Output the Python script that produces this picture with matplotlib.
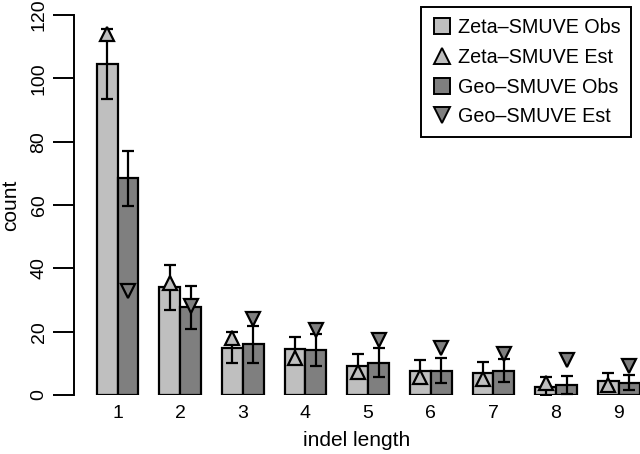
import matplotlib
matplotlib.use("Agg")
import matplotlib.pyplot as plt
from matplotlib.lines import Line2D
import numpy as np

plt.rcParams['font.family'] = ['Liberation Sans', 'DejaVu Sans']

lengths = ['1', '2', '3', '4', '5', '6', '7', '8', '9']
zeta_obs = [104.5, 34, 15, 14.5, 9.2, 7.7, 7.0, 2.6, 4.5]
zeta_err = [11, 7, 5, 3.9, 3.8, 3.4, 3.4, 3.0, 2.4]
zeta_est = [114, 35.5, 18, 11.7, 7.4, 5.8, 5.0, 3.9, 3.2]
geo_obs = [68.4, 27.7, 16, 14.2, 10.2, 7.7, 7.7, 3.2, 3.9]
geo_err = [8.7, 6.8, 5.9, 5.0, 4.6, 4.0, 3.7, 2.9, 2.4]
geo_est = [33, 28, 24, 20.5, 17.4, 14.8, 13, 10.9, 9.2]

light = '#bfbfbf'
dark = '#7f7f7f'

fig = plt.figure(figsize=(6.4, 4.54), dpi=100)
ax = fig.add_axes([74 / 640, 59 / 454, 566 / 640, 380 / 454])

# R barplot style: groups of two unit-width bars separated by one unit
grp = np.arange(len(lengths)) * 3
xz = grp + 1.5
xg = grp + 2.5
centers = grp + 2

ax.bar(xz, zeta_obs, width=1, color=light, edgecolor='black', linewidth=1.6, zorder=2)
ax.bar(xg, geo_obs, width=1, color=dark, edgecolor='black', linewidth=1.6, zorder=2)
ax.errorbar(xz, zeta_obs, yerr=zeta_err, fmt='none', ecolor='black',
            elinewidth=1.6, capsize=4.5, capthick=1.6, zorder=3)
ax.errorbar(xg, geo_obs, yerr=geo_err, fmt='none', ecolor='black',
            elinewidth=1.6, capsize=4.5, capthick=1.6, zorder=3)
ax.plot(xz, zeta_est, linestyle='none', marker='^', ms=9.5, mfc=light,
        mec='black', mew=1.6, zorder=4, clip_on=False)
ax.plot(xg, geo_est, linestyle='none', marker='v', ms=9.5, mfc=dark,
        mec='black', mew=1.6, zorder=4, clip_on=False)

ax.set_xlim(-0.087, 27.02)
ax.set_ylim(0, 120)
ax.set_yticks([0, 20, 40, 60, 80, 100, 120])
ax.set_xticks(centers)
ax.set_xticklabels(lengths)
for s in ['top', 'right', 'bottom']:
    ax.spines[s].set_visible(False)
ax.spines['left'].set_linewidth(1.4)
ax.tick_params(axis='y', length=15, width=1.4, pad=4, labelsize=14)
for lab in ax.get_yticklabels():
    lab.set_rotation(90)
    lab.set_va('center')
ax.tick_params(axis='x', length=0, pad=7, labelsize=14)

ax.set_xlabel('indel length', fontsize=15)
ax.xaxis.set_label_coords(0.5, -0.095)
ax.set_ylabel('count', fontsize=15)
ax.yaxis.set_label_coords(-0.095, 0.5)

handles = [
    Line2D([], [], linestyle='none', marker='s', ms=11, mfc=light, mec='black', mew=1.4),
    Line2D([], [], linestyle='none', marker='^', ms=11, mfc=light, mec='black', mew=1.4),
    Line2D([], [], linestyle='none', marker='s', ms=11, mfc=dark, mec='black', mew=1.4),
    Line2D([], [], linestyle='none', marker='v', ms=11, mfc=dark, mec='black', mew=1.4),
]
labels = ['Zeta\u2013SMUVE Obs', 'Zeta\u2013SMUVE Est', 'Geo\u2013SMUVE Obs', 'Geo\u2013SMUVE Est']
leg = fig.legend(handles, labels, loc='upper right',
                 bbox_to_anchor=(631 / 640, 1 - 7 / 454), borderaxespad=0,
                 fontsize=14.2, frameon=True, fancybox=False, framealpha=1,
                 edgecolor='black', handlelength=1.0, handletextpad=0.3,
                 labelspacing=0.55, borderpad=0.55)
leg.get_frame().set_linewidth(1.4)

fig.savefig('out.png', dpi=100)
